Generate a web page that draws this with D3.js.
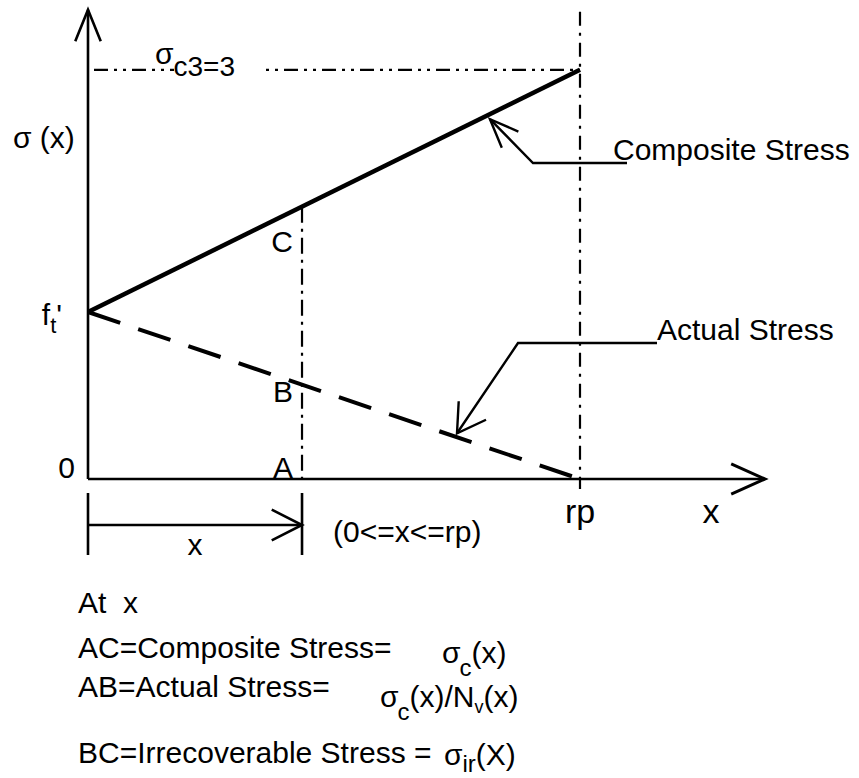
<!DOCTYPE html>
<html>
<head>
<meta charset="utf-8">
<script src="https://cdn.jsdelivr.net/npm/d3@7"></script>
<style>
  body { margin: 0; background: #fff; }
  svg { display: block; }
  text { font-family: "Liberation Sans", Arial, sans-serif; fill: #000; white-space: pre; }
</style>
</head>
<body>
<svg id="chart" width="859" height="778"></svg>
<script>
// Positions along the x axis, as fractions of rp
const xMarks = [0, 0.435, 1];            // origin, point x, rp
const xMarkNames = ["0", "x", "rp"];
// Stress values in units of f_t'
const compositeStress = [1, 2.45];       // at 0 and at rp
const actualStress = [1, 0];             // at 0 and at rp
const axisEnds = [1.376, 2.81];          // arrow tips of x and y axes
const seriesNames = ["Composite Stress", "Actual Stress"];
const pointNames = ["A", "B", "C"];
const topLabel = ["σ", "c3=3"];
const yLabel = "σ (x)";
const rangeLabel = "(0<=x<=rp)";

const svg = d3.select("#chart");
const x = d3.scaleLinear().domain([0, 1]).range([88, 580]);
const y = d3.scaleLinear().domain([0, 1]).range([479, 312]);

const lerp = (arr, t) => arr[0] + (arr[1] - arr[0]) * t;
const x0 = x(0), y0 = y(0);
const xEnd = x(axisEnds[0]), yEnd = y(axisEnds[1]);
const xp = x(xMarks[1]), xr = x(xMarks[2]);
const line = d3.line();

function stroke(sel, w, dash) {
  sel.attr("fill", "none").attr("stroke", "#000").attr("stroke-width", w);
  if (dash) sel.attr("stroke-dasharray", dash);
  return sel;
}
function path(pts, w, dash) { return stroke(svg.append("path").attr("d", line(pts)), w, dash); }
function arrowHead(tip, from, len, ang, w) {
  const a = Math.atan2(from[1] - tip[1], from[0] - tip[0]);
  const r = ang * Math.PI / 180;
  path([[tip[0] + len * Math.cos(a + r), tip[1] + len * Math.sin(a + r)], tip,
        [tip[0] + len * Math.cos(a - r), tip[1] + len * Math.sin(a - r)]], w);
}

// reference lines: level of sigma_c3 and verticals at x and rp
const yTop = y(compositeStress[1]);
path([[x0 + 6, yTop], [xr, yTop]], 2.2, "14,6,3,6,3,6");
path([[xr, yEnd + 2], [xr, y0 + 10]], 2.2, "14,7,3,7");
path([[xp, y(lerp(compositeStress, xMarks[1]))], [xp, y0]], 2.2, "16,6,3,6");

// axes with open arrow heads
path([[x0, y0], [x0, yEnd]], 2.6);
arrowHead([x0, yEnd], [x0, yEnd + 40], 34, 22, 2.6);
path([[x0, y0], [xEnd, y0]], 2.6);
arrowHead([xEnd, y0], [xEnd - 40, y0], 37, 24, 3);

// stress lines
path([[x(0), y(compositeStress[0])], [x(1), y(compositeStress[1])]], 4.5);
path([[x(0), y(actualStress[0])], [x(1), y(actualStress[1])]], 4, "34,19");

// leader for composite stress
const tC = 0.817, tipC = [x(tC), y(lerp(compositeStress, tC)) + 5];
path([[627, 163], [533, 163], tipC], 2.4);
arrowHead(tipC, [533, 163], 31, 22, 2.4);
svg.append("text").attr("x", 613).attr("y", 160).attr("font-size", 30).text(seriesNames[0]);

// leader for actual stress
const tA = 0.75, tipA = [x(tA), y(lerp(actualStress, tA)) - 4];
path([[657, 343], [518, 343], tipA], 2.4);
arrowHead(tipA, [518, 343], 32, 31, 2.4);
svg.append("text").attr("x", 657).attr("y", 340).attr("font-size", 30).text(seriesNames[1]);

// label of the sigma_c3 level, breaking the dash-dot line
svg.append("rect").attr("x", 174).attr("y", 60).attr("width", 92).attr("height", 20).attr("fill", "#fff");
const tl = svg.append("text").attr("x", 155).attr("y", 64).attr("font-size", 30);
tl.append("tspan").text(topLabel[0]);
tl.append("tspan").attr("dy", 12).attr("font-size", 28).text(topLabel[1]);

// axis labels
svg.append("text").attr("x", 13).attr("y", 148).attr("font-size", 30).text(yLabel);
const ft = svg.append("text").attr("x", 62).attr("y", y(1) + 13).attr("font-size", 30).attr("text-anchor", "end");
ft.append("tspan").text("f");
ft.append("tspan").attr("dy", 8).attr("font-size", 22).text("t");
ft.append("tspan").attr("dy", -8).text("'");
svg.append("text").attr("x", 75).attr("y", y0 - 1).attr("font-size", 30).attr("text-anchor", "end").text(xMarkNames[0]);
svg.append("text").attr("x", xr).attr("y", y0 + 44).attr("font-size", 34).attr("text-anchor", "middle").text(xMarkNames[2]);
svg.append("text").attr("x", 711).attr("y", y0 + 44).attr("font-size", 34).attr("text-anchor", "middle").text("x");

// point labels along the vertical at x
const pointY = [y0 - 1, y(lerp(actualStress, xMarks[1])) + 17, y(lerp(compositeStress, xMarks[1])) + 45];
pointNames.forEach((n, i) => {
  svg.append("text").attr("x", xp - 9).attr("y", pointY[i]).attr("font-size", 30)
    .attr("text-anchor", "end").text(n);
});

// span bracket from 0 to x
const bTop = y0 + 14, bBot = y0 + 76, bMid = y0 + 46;
path([[x0, bTop], [x0, bBot]], 2.6);
path([[xp, bTop], [xp, bBot]], 2.6);
path([[x0, bMid], [xp, bMid]], 2.6);
arrowHead([xp, bMid], [x0, bMid], 34, 27, 2.6);
svg.append("text").attr("x", (x0 + xp) / 2).attr("y", y0 + 76).attr("font-size", 30)
  .attr("text-anchor", "middle").text(xMarkNames[1]);
svg.append("text").attr("x", 333).attr("y", y0 + 63).attr("font-size", 30).text(rangeLabel);

// definitions below the chart
const defs = svg.append("g").attr("font-size", 30);
defs.append("text").attr("x", 78).attr("y", 613).text("At  x");
defs.append("text").attr("x", 78).attr("y", 658).text("AC=Composite Stress=");
defs.append("text").attr("x", 78).attr("y", 697).text("AB=Actual Stress=");
defs.append("text").attr("x", 78).attr("y", 763).text("BC=Irrecoverable Stress =");

// sigma with a low-set subscript
function sigmaSub(gx, gy, sub) {
  const t = defs.append("text").attr("x", gx).attr("y", gy);
  t.append("tspan").text("σ");
  t.append("tspan").attr("dx", -1).attr("dy", 13).attr("font-size", 24).text(sub);
  return t;
}
const f1 = sigmaSub(442, 663, "c");
f1.append("tspan").attr("dx", 0).attr("dy", -13).text("(x)");

const f2 = sigmaSub(380, 707, "c");
f2.append("tspan").attr("dx", 0).attr("dy", -13).text("(x)/N");
f2.append("tspan").attr("dy", 6).attr("font-size", 18).text("v");
f2.append("tspan").attr("dy", -6).text("(x)");

const f3 = defs.append("text").attr("x", 444).attr("y", 765);
f3.append("tspan").text("σ");
f3.append("tspan").attr("dy", 7).attr("font-size", 24).text("ir");
f3.append("tspan").attr("dy", -7).text("(X)");
</script>
</body>
</html>
